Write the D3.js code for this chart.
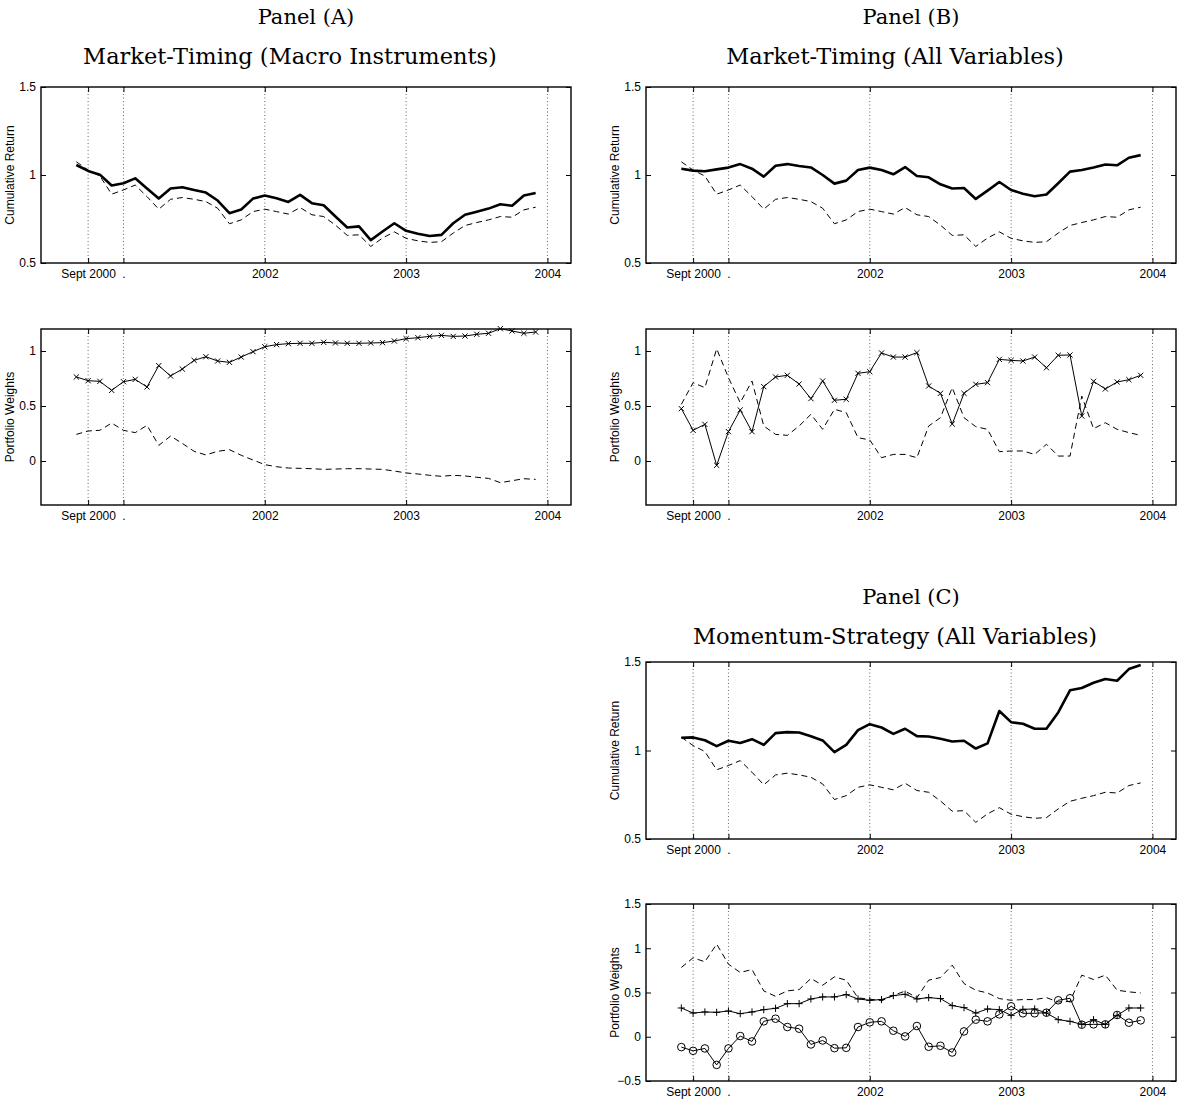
<!DOCTYPE html>
<html>
<head>
<meta charset="utf-8">
<script src="https://cdn.jsdelivr.net/npm/d3@7"></script>
<style>
  body { margin: 0; background: #fff; }
  svg text { font-family: "Liberation Sans", Arial, sans-serif; fill: #000; }
  .title { font-family: "DejaVu Serif", serif; font-size: 21px; }
  .title.sub { font-size: 22.5px; }
</style>
</head>
<body>
<svg id="chart" width="1180" height="1099"></svg>
<script>
  // ---------------- data ----------------
  // month index 0..39 (monthly observations)
  const months = d3.range(40);
  const tickVals = [1, 4, 16, 28, 40];
  const tickLabels = ["Sept 2000", ".", "2002", "2003", "2004"];

  // benchmark cumulative return (dashed, same in every panel)
  const benchmark = [1.075, 1.028, 0.994, 0.891, 0.915, 0.943, 0.877, 0.806, 0.862, 0.872,
    0.862, 0.849, 0.811, 0.723, 0.745, 0.792, 0.806, 0.792, 0.778, 0.815,
    0.774, 0.764, 0.715, 0.657, 0.660, 0.594, 0.642, 0.677, 0.640, 0.626,
    0.617, 0.621, 0.670, 0.713, 0.730, 0.745, 0.764, 0.760, 0.802, 0.817];

  // panel A
  const cumA = [1.057, 1.023, 1.002, 0.940, 0.953, 0.981, 0.923, 0.866, 0.923, 0.930,
    0.915, 0.900, 0.855, 0.783, 0.804, 0.866, 0.883, 0.868, 0.847, 0.887,
    0.840, 0.828, 0.764, 0.702, 0.708, 0.630, 0.679, 0.726, 0.683, 0.666,
    0.653, 0.660, 0.726, 0.774, 0.791, 0.809, 0.834, 0.825, 0.883, 0.898];
  const wA1 = [0.764, 0.730, 0.724, 0.642, 0.721, 0.742, 0.673, 0.867, 0.773, 0.836,
    0.915, 0.948, 0.909, 0.897, 0.945, 0.994, 1.039, 1.058, 1.067, 1.070,
    1.070, 1.079, 1.073, 1.070, 1.070, 1.073, 1.076, 1.091, 1.112, 1.121,
    1.133, 1.142, 1.133, 1.136, 1.152, 1.161, 1.203, 1.182, 1.161, 1.173];
  const wA2 = [0.242, 0.273, 0.279, 0.345, 0.279, 0.258, 0.324, 0.142, 0.227, 0.160,
    0.088, 0.055, 0.088, 0.103, 0.052, 0.009, -0.033, -0.052, -0.064, -0.067,
    -0.070, -0.076, -0.073, -0.070, -0.070, -0.073, -0.076, -0.091, -0.109, -0.118,
    -0.130, -0.139, -0.130, -0.136, -0.148, -0.158, -0.197, -0.179, -0.161, -0.167];

  // panel B
  const cumB = [1.036, 1.025, 1.021, 1.032, 1.042, 1.062, 1.036, 0.991, 1.053, 1.062,
    1.051, 1.043, 1.000, 0.951, 0.968, 1.028, 1.042, 1.028, 1.004, 1.045,
    0.994, 0.987, 0.947, 0.923, 0.926, 0.864, 0.911, 0.960, 0.915, 0.894,
    0.879, 0.889, 0.953, 1.019, 1.028, 1.043, 1.060, 1.055, 1.098, 1.113];
  const wB1 = [0.476, 0.279, 0.333, -0.039, 0.267, 0.464, 0.267, 0.676, 0.764, 0.779,
    0.700, 0.567, 0.727, 0.552, 0.561, 0.797, 0.812, 0.982, 0.945, 0.945,
    0.985, 0.682, 0.615, 0.336, 0.615, 0.697, 0.712, 0.924, 0.915, 0.909,
    0.945, 0.848, 0.961, 0.964, 0.409, 0.724, 0.655, 0.718, 0.739, 0.779];
  const wB2 = [0.515, 0.712, 0.667, 1.020, 0.758, 0.530, 0.727, 0.318, 0.242, 0.233,
    0.318, 0.424, 0.288, 0.470, 0.440, 0.212, 0.191, 0.030, 0.060, 0.060,
    0.030, 0.318, 0.394, 0.667, 0.394, 0.312, 0.288, 0.085, 0.091, 0.091,
    0.060, 0.152, 0.045, 0.045, 0.590, 0.294, 0.348, 0.288, 0.258, 0.233];

  // panel C
  const cumC = [1.072, 1.074, 1.058, 1.025, 1.055, 1.042, 1.064, 1.032, 1.098, 1.104,
    1.102, 1.081, 1.057, 0.991, 1.032, 1.115, 1.149, 1.130, 1.094, 1.123,
    1.081, 1.079, 1.066, 1.051, 1.055, 1.011, 1.040, 1.223, 1.160, 1.151,
    1.123, 1.123, 1.215, 1.340, 1.353, 1.383, 1.404, 1.394, 1.460, 1.483];
  const wCplus = [0.325, 0.268, 0.280, 0.276, 0.291, 0.261, 0.280, 0.306, 0.321, 0.374,
    0.374, 0.427, 0.450, 0.450, 0.476, 0.427, 0.412, 0.420, 0.465, 0.480,
    0.427, 0.442, 0.431, 0.352, 0.329, 0.268, 0.314, 0.306, 0.242, 0.310,
    0.314, 0.268, 0.193, 0.174, 0.140, 0.193, 0.140, 0.242, 0.325, 0.325];
  const wCcirc = [-0.117, -0.159, -0.132, -0.318, -0.132, 0.008, -0.053, 0.174, 0.204, 0.110,
    0.091, -0.087, -0.042, -0.129, -0.125, 0.110, 0.163, 0.174, 0.068, 0.004,
    0.121, -0.113, -0.102, -0.178, 0.060, 0.193, 0.174, 0.253, 0.344, 0.265,
    0.265, 0.272, 0.412, 0.435, 0.136, 0.140, 0.140, 0.246, 0.159, 0.185];
  const wCdash = [0.783, 0.892, 0.847, 1.047, 0.820, 0.726, 0.760, 0.518, 0.457, 0.518,
    0.533, 0.658, 0.582, 0.677, 0.639, 0.439, 0.425, 0.406, 0.467, 0.516,
    0.440, 0.639, 0.669, 0.809, 0.601, 0.526, 0.495, 0.431, 0.412, 0.420,
    0.420, 0.442, 0.393, 0.400, 0.696, 0.647, 0.696, 0.526, 0.507, 0.495];

  // ---------------- drawing ----------------
  const svg = d3.select("#chart");
  const plotW = 530;

  const markerPath = {
    x: "M-2.6,-2.6L2.6,2.6M-2.6,2.6L2.6,-2.6",
    plus: "M-3.6,0H3.6M0,-3.6V3.6"
  };

  function plot(left, top, h, yDomain, yTicks, ylabel, series) {
    const g = svg.append("g").attr("transform", `translate(${left},${top})`);
    const x = d3.scaleLinear().domain([-3, 42]).range([0, plotW]);
    const y = d3.scaleLinear().domain(yDomain).range([h, 0]);

    // dotted verticals at x ticks
    g.selectAll(".grid").data(tickVals).enter().append("line")
      .attr("x1", d => x(d)).attr("x2", d => x(d))
      .attr("y1", 0).attr("y2", h)
      .attr("stroke", "#666").attr("stroke-width", 1)
      .attr("stroke-dasharray", "1,2.5");

    const fmt = d => d3.format("")(d);
    const xb = g.append("g").attr("transform", `translate(0,${h})`)
      .call(d3.axisBottom(x).tickValues(tickVals)
        .tickFormat((d, i) => tickLabels[i]).tickSize(-5).tickPadding(6));
    const xt = g.append("g")
      .call(d3.axisTop(x).tickValues(tickVals).tickFormat("").tickSize(-5));
    const yl = g.append("g")
      .call(d3.axisLeft(y).tickValues(yTicks).tickFormat(fmt).tickSize(-5).tickPadding(5));
    const yr = g.append("g").attr("transform", `translate(${plotW},0)`)
      .call(d3.axisRight(y).tickValues(yTicks).tickFormat("").tickSize(-5));
    [xb, xt, yl, yr].forEach(a => {
      a.select(".domain").remove();
      a.selectAll("line").attr("stroke", "#000");
      a.selectAll("text").attr("font-size", 12).attr("font-family", "Liberation Sans, Arial, sans-serif");
    });

    g.append("rect").attr("width", plotW).attr("height", h)
      .attr("fill", "none").attr("stroke", "#000").attr("stroke-width", 1.4);

    g.append("text")
      .attr("transform", `translate(-27,${h / 2}) rotate(-90)`)
      .attr("text-anchor", "middle")
      .attr("font-size", 12)
      .text(ylabel);

    const line = d3.line().x((d, i) => x(months[i])).y(d => y(d));

    series.forEach(s => {
      g.append("path").datum(s.values)
        .attr("d", line)
        .attr("fill", "none")
        .attr("stroke", "#000")
        .attr("stroke-width", s.width)
        .attr("stroke-linejoin", "round")
        .attr("stroke-dasharray", s.dash || null);

      if (s.marker === "o") {
        g.selectAll(null).data(s.values).enter().append("circle")
          .attr("cx", (d, i) => x(months[i])).attr("cy", d => y(d))
          .attr("r", 3.8).attr("fill", "none").attr("stroke", "#000").attr("stroke-width", 1);
      } else if (s.marker) {
        g.selectAll(null).data(s.values).enter().append("path")
          .attr("transform", (d, i) => `translate(${x(months[i])},${y(d)})`)
          .attr("d", markerPath[s.marker])
          .attr("fill", "none").attr("stroke", "#000").attr("stroke-width", 1);
      }
    });
  }

  function title(cx, y1, line1, line2) {
    svg.append("text").attr("class", "title").attr("x", cx).attr("y", y1)
      .attr("text-anchor", "middle").text(line1);
    svg.append("text").attr("class", "title sub").attr("x", cx - 16).attr("y", y1 + 40)
      .attr("text-anchor", "middle").text(line2);
  }

  const dashed = "6,4";

  // Panel A
  title(306, 24, "Panel (A)", "Market-Timing (Macro Instruments)");
  plot(41, 87, 176, [0.5, 1.5], [0.5, 1, 1.5], "Cumulative Return", [
    { values: benchmark, width: 1, dash: dashed },
    { values: cumA, width: 2.6 }
  ]);
  plot(41, 329, 176, [-0.4, 1.2], [0, 0.5, 1], "Portfolio Weights", [
    { values: wA2, width: 1, dash: dashed },
    { values: wA1, width: 1, marker: "x" }
  ]);

  // Panel B
  title(911, 24, "Panel (B)", "Market-Timing (All Variables)");
  plot(646, 87, 176, [0.5, 1.5], [0.5, 1, 1.5], "Cumulative Return", [
    { values: benchmark, width: 1, dash: dashed },
    { values: cumB, width: 2.6 }
  ]);
  plot(646, 329, 176, [-0.4, 1.2], [0, 0.5, 1], "Portfolio Weights", [
    { values: wB2, width: 1, dash: dashed },
    { values: wB1, width: 1, marker: "x" }
  ]);

  // Panel C
  title(911, 604, "Panel (C)", "Momentum-Strategy (All Variables)");
  plot(646, 662, 177, [0.5, 1.5], [0.5, 1, 1.5], "Cumulative Return", [
    { values: benchmark, width: 1, dash: dashed },
    { values: cumC, width: 2.6 }
  ]);
  plot(646, 904, 177, [-0.5, 1.5], [-0.5, 0, 0.5, 1, 1.5], "Portfolio Weights", [
    { values: wCdash, width: 1, dash: dashed },
    { values: wCplus, width: 1, marker: "plus" },
    { values: wCcirc, width: 1, marker: "o" }
  ]);
</script>
</body>
</html>
